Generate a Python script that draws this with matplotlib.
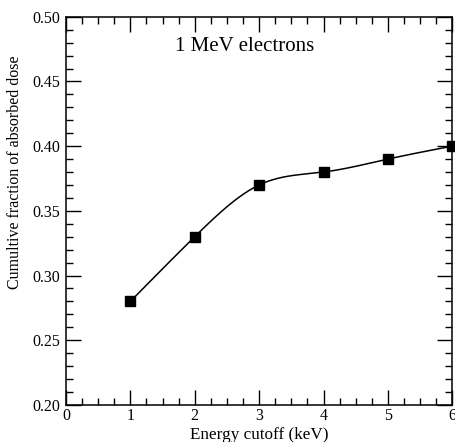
import numpy as np
import matplotlib
matplotlib.use("Agg")
import matplotlib.pyplot as plt
from matplotlib.ticker import MultipleLocator

# data
energy_cutoff = [1, 2, 3, 4, 5, 6]
dose_fraction = [0.28, 0.33, 0.37, 0.38, 0.39, 0.40]


def natural_spline(x, y, n=200):
    # natural cubic spline through the points, for the smooth connecting line
    x = np.asarray(x, float)
    y = np.asarray(y, float)
    h = np.diff(x)
    m = len(x)
    A = np.zeros((m, m))
    b = np.zeros(m)
    A[0, 0] = A[-1, -1] = 1
    for i in range(1, m - 1):
        A[i, i - 1] = h[i - 1]
        A[i, i] = 2 * (h[i - 1] + h[i])
        A[i, i + 1] = h[i]
        b[i] = 3 * ((y[i + 1] - y[i]) / h[i] - (y[i] - y[i - 1]) / h[i - 1])
    c = np.linalg.solve(A, b)
    xs = np.linspace(x[0], x[-1], n)
    ys = np.empty_like(xs)
    for k, xv in enumerate(xs):
        i = min(np.searchsorted(x, xv, side="right") - 1, m - 2)
        d = xv - x[i]
        bi = (y[i + 1] - y[i]) / h[i] - h[i] * (2 * c[i] + c[i + 1]) / 3
        di = (c[i + 1] - c[i]) / (3 * h[i])
        ys[k] = y[i] + bi * d + c[i] * d ** 2 + di * d ** 3
    return xs, ys


plt.rcParams["font.family"] = ["Liberation Serif", "DejaVu Serif"]

fig = plt.figure(figsize=(4.55, 4.42), dpi=100)
ax = fig.add_axes([0.145, 0.084, 0.849, 0.878])

xs, ys = natural_spline(energy_cutoff, dose_fraction)
ax.plot(xs, ys, color="black", lw=1.1)
ax.plot(energy_cutoff, dose_fraction, "s", color="black", ms=6.5, clip_on=False)

ax.set_xlim(0, 6)
ax.set_ylim(0.20, 0.50)
ax.xaxis.set_major_locator(MultipleLocator(1))
ax.xaxis.set_minor_locator(MultipleLocator(0.25))
ax.yaxis.set_major_locator(MultipleLocator(0.05))
ax.yaxis.set_minor_locator(MultipleLocator(0.01))
ax.yaxis.set_major_formatter(plt.FormatStrFormatter("%.2f"))

ax.tick_params(which="both", direction="in", top=True, right=True,
               labelsize=11.5, width=1)
ax.tick_params(axis="y", pad=4)
ax.tick_params(axis="x", pad=2)
ax.tick_params(which="major", length=10.5)
ax.tick_params(which="minor", length=5)
for s in ax.spines.values():
    s.set_linewidth(1.1)

ax.set_xlabel("Energy cutoff (keV)", fontsize=12.3)
ax.xaxis.set_label_coords(0.5, -0.058)
ax.set_ylabel("Cumultive fraction of absorbed dose", fontsize=11.5)
ax.yaxis.set_label_coords(-0.111, 0.6)
ax.text(2.78, 0.477, "1 MeV electrons", fontsize=15, ha="center", va="center")

fig.savefig("out.png", dpi=100)
